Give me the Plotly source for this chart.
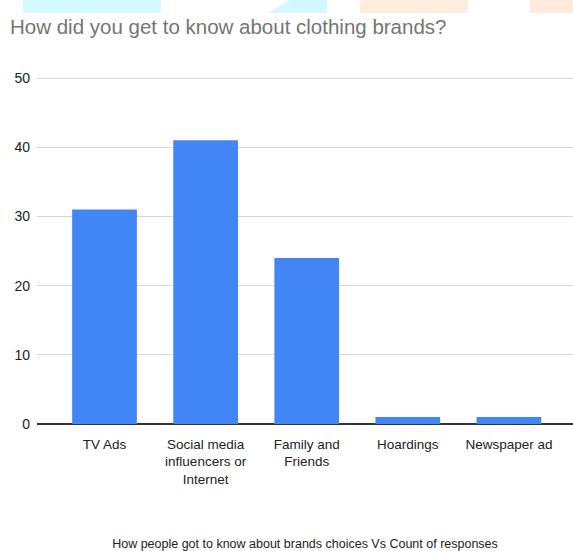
import plotly.graph_objects as go

categories = ["TV Ads", "Social media<br>influencers or<br>Internet", "Family and<br>Friends", "Hoardings", "Newspaper ad"]
responses = [31, 41, 24, 1, 1]
y_ticks = [0, 10, 20, 30, 40, 50]

W, H = 573, 551
ML, MR, MT, MB = 37, 0, 77, 127
FONT = "Liberation Sans, Arial, sans-serif"


def px_x(x):
    return (x - ML) / (W - ML - MR)


def px_y(y):
    return (H - MB - y) / (H - MT - MB)


fig = go.Figure(
    go.Bar(
        x=list(range(len(categories))),
        y=responses,
        marker=dict(color="#4285F4", line=dict(width=0)),
        width=0.64,
        hoverinfo="skip",
    )
)

# faint coloured strips at the very top of the screenshot
decor = [
    ("M {x0},{y1} L {x0},{y0} L {x1},{y0} L {x1},{y1} Z", 23, 161, "#d3fbff"),
    ("M {x0},{y1} L {xs},{y0} L {x1},{y0} L {x1},{y1} Z", 268, 327, "#d3f6ff"),
    ("M {x0},{y1} L {x0},{y0} L {x1},{y0} L {x1},{y1} Z", 360, 468, "#ffeedd"),
    ("M {x0},{y1} L {x0},{y0} L {x1},{y0} L {x1},{y1} Z", 530, 573, "#ffeadb"),
]
shapes = []
for tpl, a, b, col in decor:
    path = tpl.format(x0=px_x(a), x1=px_x(b), xs=px_x(a + 22), y0=px_y(0), y1=px_y(13))
    shapes.append(dict(type="path", path=path, xref="paper", yref="paper",
                       fillcolor=col, line=dict(width=0), layer="above"))

fig.update_layout(
    width=W,
    height=H,
    margin=dict(l=ML, r=MR, t=MT, b=MB),
    paper_bgcolor="white",
    plot_bgcolor="white",
    font=dict(family=FONT, color="#222222"),
    showlegend=False,
    title=dict(
        text="How did you get to know about clothing brands?",
        font=dict(family=FONT, size=20.5, color="#757575"),
        x=10 / W,
        xanchor="left",
        xref="container",
        y=1 - 27 / H,
        yanchor="middle",
    ),
    shapes=shapes,
    xaxis=dict(
        tickmode="array",
        tickvals=list(range(len(categories))),
        ticktext=categories,
        range=[-0.668, 4.634],
        showgrid=False,
        showline=False,
        zeroline=False,
        ticks="",
        ticklabelstandoff=10,
        tickfont=dict(size=13.5, color="#222222"),
        title=dict(
            text="How people got to know about brands choices Vs Count of responses",
            font=dict(size=12.5, color="#222222"),
            standoff=54,
        ),
        fixedrange=True,
    ),
    yaxis=dict(
        range=[0, 50.15],
        tickmode="array",
        tickvals=y_ticks,
        showgrid=True,
        gridcolor="#d6d6d6",
        gridwidth=1,
        zeroline=True,
        zerolinecolor="#333333",
        zerolinewidth=2,
        showline=False,
        ticks="",
        ticklabelstandoff=6,
        tickfont=dict(size=14, color="#222222"),
        fixedrange=True,
    ),
)

fig.write_html("out.html")
